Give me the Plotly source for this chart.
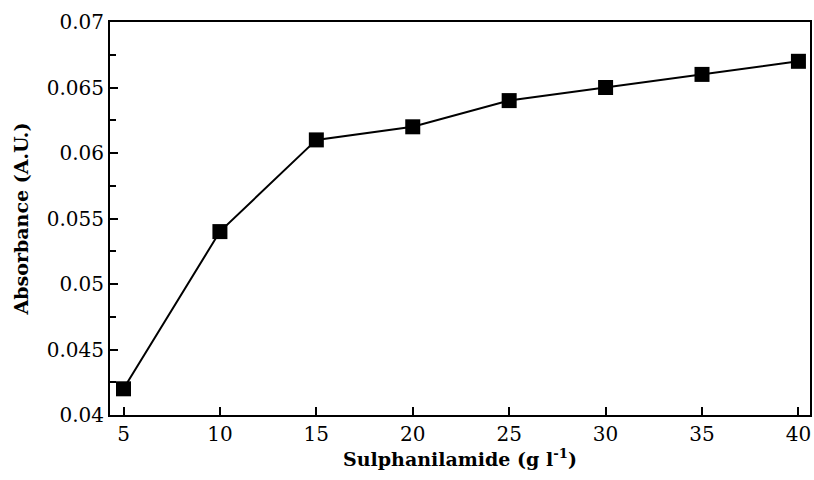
import plotly.graph_objects as go

conc = [5, 10, 15, 20, 25, 30, 35, 40]
absorbance = [0.042, 0.054, 0.061, 0.062, 0.064, 0.065, 0.066, 0.067]
y_tick_vals = [0.04, 0.045, 0.05, 0.055, 0.06, 0.065, 0.07]
y_tick_text = ["0.04", "0.045", "0.05", "0.055", "0.06", "0.065", "0.07"]
y_minor_vals = [0.0425, 0.0475, 0.0525, 0.0575, 0.0625, 0.0675]
x_tick_vals = [5, 10, 15, 20, 25, 30, 35, 40]

fig = go.Figure()
fig.add_trace(go.Scatter(
    x=conc, y=absorbance, mode="lines+markers",
    line=dict(color="black", width=2),
    marker=dict(symbol="square", size=15, color="black"),
    showlegend=False,
))

serif = "DejaVu Serif, Liberation Serif, serif"
fig.update_layout(
    width=814, height=480,
    margin=dict(l=110, r=2, t=22, b=65),
    paper_bgcolor="white", plot_bgcolor="white",
    font=dict(family=serif, color="black", size=20),
)
fig.update_xaxes(
    range=[4.3, 40.6], tickvals=x_tick_vals,
    ticks="inside", ticklen=8, tickwidth=1.5, tickcolor="black",
    showline=True, linecolor="black", linewidth=2, mirror=True,
    showgrid=False, zeroline=False,
    tickfont=dict(size=20, family=serif),
    title=dict(text="<b>Sulphanilamide (g l<sup>-1</sup>)</b>", font=dict(size=19, family=serif), standoff=8),
)
fig.update_yaxes(
    range=[0.04, 0.07], tickvals=y_tick_vals, ticktext=y_tick_text,
    ticks="inside", ticklen=8, tickwidth=1.5, tickcolor="black",
    minor=dict(tickvals=y_minor_vals, ticks="inside", ticklen=6, tickcolor="black", tickwidth=1.5),
    showline=True, linecolor="black", linewidth=2, mirror=True,
    showgrid=False, zeroline=False,
    tickfont=dict(size=20, family=serif),
    title=dict(text="<b>Absorbance (A.U.)</b>", font=dict(size=19, family=serif), standoff=13),
)

fig.write_html("out.html")
